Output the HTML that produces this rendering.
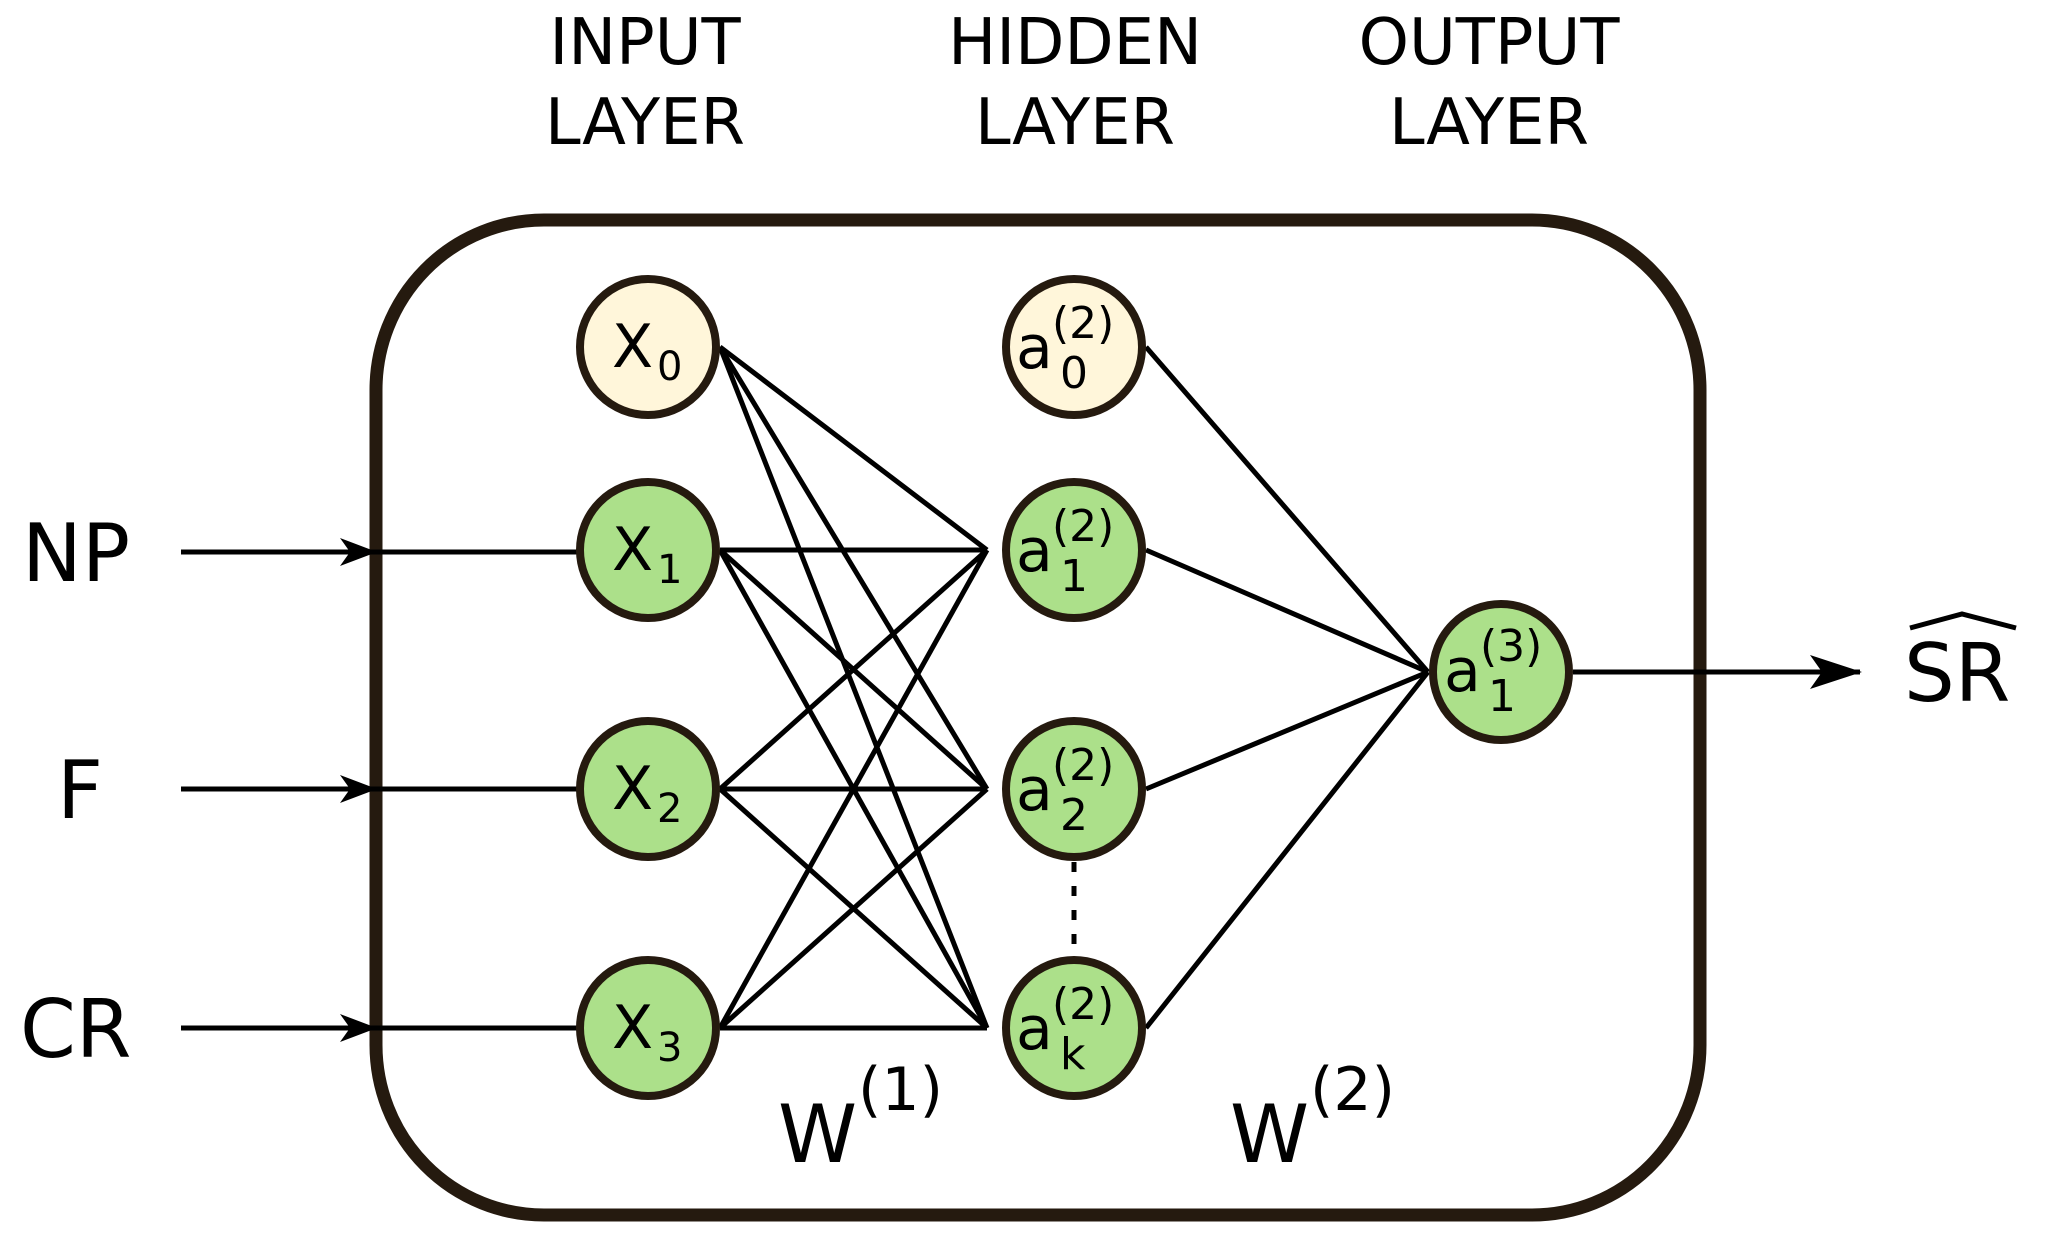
<!DOCTYPE html>
<html><head><meta charset="utf-8"><style>
html,body{margin:0;padding:0;background:#fff;}
svg{display:block;}
text{font-family:"DejaVu Sans","Liberation Sans",sans-serif;fill:#000;}
</style></head><body>
<svg width="2050" height="1240" viewBox="0 0 2050 1240" xmlns="http://www.w3.org/2000/svg">
<!-- titles -->
<g font-size="64" text-anchor="middle">
<text x="645" y="64">INPUT</text><text x="645" y="144">LAYER</text>
<text x="1075" y="64">HIDDEN</text><text x="1075" y="144">LAYER</text>
<text x="1489" y="64">OUTPUT</text><text x="1489" y="144">LAYER</text>
</g>
<!-- box -->
<path d="M376,1045 L376,390 A168,170 0 0 1 544,220 L1532,220 A168,170 0 0 1 1700,390 L1700,1045 A168,170 0 0 1 1532,1215 L544,1215 A168,170 0 0 1 376,1045 Z" fill="none" stroke="#251a0f" stroke-width="13"/>
<!-- connections -->
<g stroke="#000" stroke-width="5" fill="none">
<line x1="720" y1="347" x2="987" y2="550"/><line x1="720" y1="347" x2="987" y2="789"/><line x1="720" y1="347" x2="987" y2="1028"/>
<line x1="720" y1="550" x2="987" y2="550"/><line x1="720" y1="550" x2="987" y2="789"/><line x1="720" y1="550" x2="987" y2="1028"/>
<line x1="720" y1="789" x2="987" y2="550"/><line x1="720" y1="789" x2="987" y2="789"/><line x1="720" y1="789" x2="987" y2="1028"/>
<line x1="720" y1="1028" x2="987" y2="550"/><line x1="720" y1="1028" x2="987" y2="789"/><line x1="720" y1="1028" x2="987" y2="1028"/>
<line x1="1146" y1="347" x2="1428" y2="672"/><line x1="1146" y1="550" x2="1428" y2="672"/>
<line x1="1146" y1="789" x2="1428" y2="672"/><line x1="1146" y1="1028" x2="1428" y2="672"/>
<line x1="181" y1="552" x2="578" y2="552"/><line x1="181" y1="789" x2="578" y2="789"/><line x1="181" y1="1028" x2="578" y2="1028"/>
<line x1="1573" y1="672" x2="1860" y2="672"/>
<line x1="1074" y1="862" x2="1074" y2="955" stroke-dasharray="10,14" stroke-width="5"/>
</g>
<g fill="#000">
<polygon points="377,552 340,538 350,552 340,566"/>
<polygon points="377,789 340,775 350,789 340,803"/>
<polygon points="377,1028 340,1014 350,1028 340,1042"/>
<polygon points="1862,672 1810,655 1822,672 1810,689"/>
</g>
<!-- nodes -->
<g stroke="#251a0f" stroke-width="8">
<circle cx="648" cy="347" r="68" fill="#fff6da"/>
<circle cx="648" cy="550" r="68" fill="#ace08a"/>
<circle cx="648" cy="789" r="68" fill="#ace08a"/>
<circle cx="648" cy="1028" r="68" fill="#ace08a"/>
<circle cx="1074" cy="347" r="68" fill="#fff6da"/>
<circle cx="1074" cy="550" r="68" fill="#ace08a"/>
<circle cx="1074" cy="789" r="68" fill="#ace08a"/>
<circle cx="1074" cy="1028" r="68" fill="#ace08a"/>
<circle cx="1501" cy="672" r="68" fill="#ace08a"/>
</g>
<g font-size="60">
<text x="612" y="367">X</text><text x="657" y="380" font-size="40">0</text>
<text x="612" y="570">X</text><text x="657" y="583" font-size="40">1</text>
<text x="612" y="809">X</text><text x="657" y="822" font-size="40">2</text>
<text x="612" y="1048">X</text><text x="657" y="1061" font-size="40">3</text>
</g>
<g font-size="60">
<text x="1016" y="368">a</text><text x="1052" y="338" font-size="44">(2)</text><text x="1060" y="388" font-size="44">0</text>
<text x="1016" y="571">a</text><text x="1052" y="541" font-size="44">(2)</text><text x="1060" y="591" font-size="44">1</text>
<text x="1016" y="810">a</text><text x="1052" y="780" font-size="44">(2)</text><text x="1060" y="830" font-size="44">2</text>
<text x="1016" y="1049">a</text><text x="1052" y="1019" font-size="44">(2)</text><text x="1060" y="1069" font-size="44">k</text>
<text x="1444" y="691">a</text><text x="1480" y="661" font-size="44">(3)</text><text x="1488" y="711" font-size="44">1</text>
</g>
<g font-size="80">
<text x="22" y="581">NP</text>
<text x="57" y="818">F</text>
<text x="20" y="1057">CR</text>
<text x="1904" y="701">SR</text>
<text x="778" y="1162">W</text><text x="858" y="1110" font-size="60">(1)</text>
<text x="1230" y="1162">W</text><text x="1310" y="1110" font-size="60">(2)</text>
</g>
<path d="M1910,628 L1962,614 L2016,628" fill="none" stroke="#000" stroke-width="5"/>
</svg>
</body></html>
